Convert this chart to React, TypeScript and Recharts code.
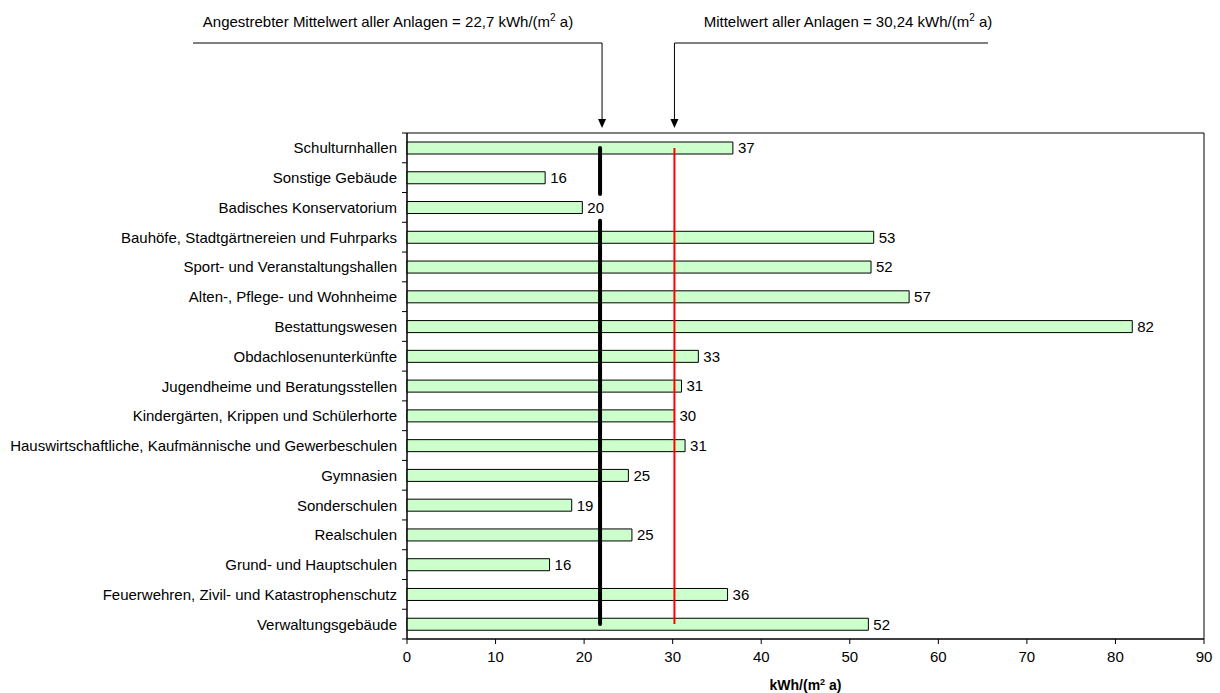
import { BarChart, Bar, XAxis, YAxis, ReferenceLine, ReferenceArea, LabelList } from 'recharts'

const categories = [
  'Schulturnhallen',
  'Sonstige Gebäude',
  'Badisches Konservatorium',
  'Bauhöfe, Stadtgärtnereien und Fuhrparks',
  'Sport- und Veranstaltungshallen',
  'Alten-, Pflege- und Wohnheime',
  'Bestattungswesen',
  'Obdachlosenunterkünfte',
  'Jugendheime und Beratungsstellen',
  'Kindergärten, Krippen und Schülerhorte',
  'Hauswirtschaftliche, Kaufmännische und Gewerbeschulen',
  'Gymnasien',
  'Sonderschulen',
  'Realschulen',
  'Grund- und Hauptschulen',
  'Feuerwehren, Zivil- und Katastrophenschutz',
  'Verwaltungsgebäude',
]
const values = [36.8, 15.6, 19.8, 52.7, 52.4, 56.7, 81.9, 32.9, 31.0, 30.2, 31.4, 25.0, 18.6, 25.4, 16.1, 36.2, 52.1]
const xTicks = [0, 10, 20, 30, 40, 50, 60, 70, 80, 90]

const targetValue = 21.8 // drawn position of the target line
const meanValue = 30.2 // drawn position of the mean line
const targetText = 'Angestrebter Mittelwert aller Anlagen = 22,7 kWh/(m'
const meanText = 'Mittelwert aller Anlagen = 30,24 kWh/(m'

const data = categories.map((name, i) => ({ name, value: values[i] }))

const W = 1220
const H = 693
const PLOT_LEFT = 407
const PLOT_TOP = 133
const PLOT_RIGHT = 1204
const PLOT_BOTTOM = 639
const PLOT_W = PLOT_RIGHT - PLOT_LEFT
const STEP = (PLOT_BOTTOM - PLOT_TOP) / categories.length
const FONT = '"Liberation Sans", Arial, sans-serif'
const FS = 15

const px = (v: number) => PLOT_LEFT + (v / 90) * PLOT_W

function CategoryTick(props: any) {
  const { x, y, payload, index } = props
  const ax = x + 10
  return (
    <g>
      <line x1={ax - 5} x2={ax} y1={y - STEP / 2} y2={y - STEP / 2} stroke="#000" />
      {index === categories.length - 1 && (
        <line x1={ax - 5} x2={ax} y1={y + STEP / 2} y2={y + STEP / 2} stroke="#000" />
      )}
      <text x={x} y={y} textAnchor="end" dominantBaseline="central" fontSize={FS} fill="#000" fontFamily={FONT}>
        {payload.value}
      </text>
    </g>
  )
}

function TargetShape(props: any) {
  const { x1, y1, x2, y2 } = props
  const step = (y2 - y1) / (categories.length - 1)
  const gc = y1 + 2 * step
  const half = step * 0.45
  return (
    <g>
      <line x1={x1} x2={x2} y1={y1} y2={gc - half} stroke="#000" strokeWidth={4} strokeLinecap="round" />
      <line x1={x1} x2={x2} y1={gc + half} y2={y2} stroke="#000" strokeWidth={4} strokeLinecap="round" />
    </g>
  )
}

function AxisTitle(props: any) {
  const { viewBox } = props
  const cx = viewBox.x + viewBox.width / 2
  return (
    <text x={cx} y={viewBox.y + 51} textAnchor="middle" fontSize={14} fontWeight="bold" fontFamily={FONT} fill="#000">
      kWh/(m<tspan dy={-5} fontSize={9}>2</tspan><tspan dy={5}> a)</tspan>
    </text>
  )
}

function Annotation({ text, cx, x1, x2, ax }: { text: string; cx: number; x1: number; x2: number; ax: number }) {
  return (
    <g>
      <text x={cx} y={27} textAnchor="middle" fontSize={FS} fontFamily={FONT} fill="#000">
        {text}
        <tspan dy={-6} fontSize={10}>2</tspan>
        <tspan dy={6}> a)</tspan>
      </text>
      <line x1={x1} x2={x2} y1={43} y2={43} stroke="#000" />
      <line x1={ax} x2={ax} y1={43} y2={120} stroke="#000" />
      <path d={`M${ax - 4},119 L${ax + 4},119 L${ax},128 Z`} fill="#000" />
    </g>
  )
}

export default function App() {
  const tx = px(targetValue) + 2
  const mx = px(meanValue)
  return (
    <div style={{ position: 'absolute', left: 0, top: 0, width: W, height: H, background: '#fff' }}>
      <BarChart
        width={W}
        height={H}
        data={data}
        layout="vertical"
        margin={{ top: PLOT_TOP, right: W - PLOT_RIGHT, bottom: 0, left: 0 }}
        barCategoryGap={0}
      >
        <XAxis
          type="number"
          domain={[0, 90]}
          ticks={xTicks}
          interval={0}
          height={H - PLOT_BOTTOM}
          axisLine={{ stroke: '#000' }}
          tickLine={{ stroke: '#000' }}
          tickSize={5}
          tickMargin={7}
          tick={{ fill: '#000', fontSize: FS, fontFamily: FONT }}
          label={{ content: AxisTitle }}
        />
        <YAxis
          type="category"
          dataKey="name"
          width={PLOT_LEFT}
          interval={0}
          axisLine={{ stroke: '#000' }}
          tickLine={false}
          tickSize={0}
          tickMargin={10}
          tick={CategoryTick}
        />
        <ReferenceArea x1={0} x2={90} fill="none" stroke="#000" strokeWidth={1} fillOpacity={0} />
        <Bar dataKey="value" barSize={12} fill="#ccffcc" stroke="#000" strokeWidth={1} isAnimationActive={false}>
          <LabelList
            dataKey="value"
            position="right"
            offset={5}
            formatter={(v: any) => Math.round(Number(v))}
            fill="#000"
            fontSize={FS}
            fontFamily={FONT}
          />
        </Bar>
        <ReferenceLine
          segment={[
            { x: targetValue, y: categories[0] },
            { x: targetValue, y: categories[categories.length - 1] },
          ]}
          shape={TargetShape}
        />
        <ReferenceLine
          segment={[
            { x: meanValue, y: categories[0] },
            { x: meanValue, y: categories[categories.length - 1] },
          ]}
          stroke="#ff0000"
          strokeWidth={2}
        />
      </BarChart>
      <svg width={W} height={PLOT_TOP} style={{ position: 'absolute', left: 0, top: 0, pointerEvents: 'none' }}>
        <Annotation text={targetText} cx={388} x1={193} x2={tx} ax={tx} />
        <Annotation text={meanText} cx={848} x1={mx} x2={988} ax={mx} />
      </svg>
    </div>
  )
}
